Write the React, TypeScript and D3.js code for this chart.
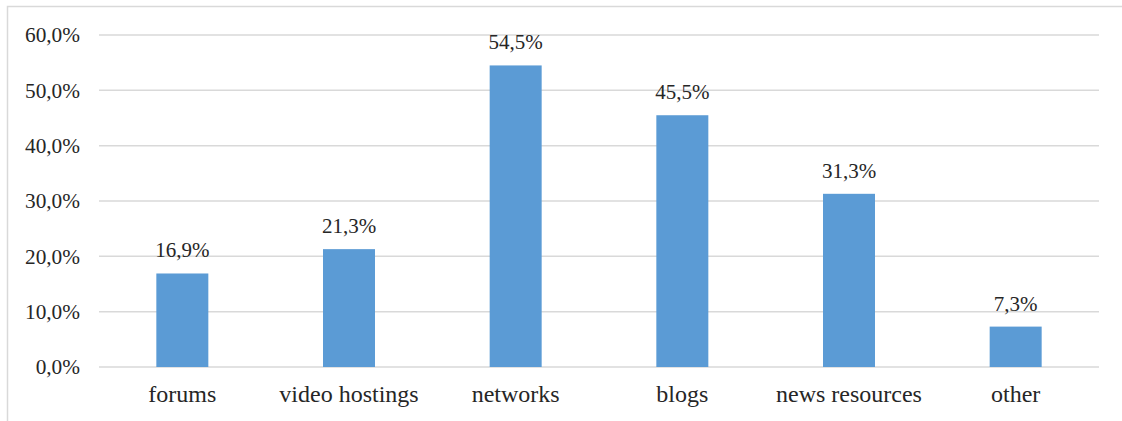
import React from "react";
import * as d3 from "d3";

const categories = ["forums", "video hostings", "networks", "blogs", "news resources", "other"];
const values = [16.9, 21.3, 54.5, 45.5, 31.3, 7.3];
const yTicks = [0, 10, 20, 30, 40, 50, 60];

const W = 1122;
const H = 421;
const fmt = (v: number) => v.toFixed(1).replace(".", ",") + "%";

export default function App() {
  const x = d3.scaleBand<string>().domain(categories).range([99, 1099]).paddingInner(0.688).paddingOuter(0.344);
  const y = d3.scaleLinear().domain([0, 60]).range([367, 35]);
  const textColor = "#262626";
  const font = "Liberation Serif";
  return (
    <svg width={W} height={H} style={{ position: "absolute", left: 0, top: 0, background: "#fff" }}>
      <rect x={7.5} y={6.5} width={1300} height={600} fill="none" stroke="#D9D9D9" strokeWidth={1.5} />
      {yTicks.map((t) => (
        <g key={t}>
          <line x1={99} x2={1099} y1={y(t)} y2={y(t)} stroke="#D9D9D9" strokeWidth={1.5} />
          <text x={80} y={y(t)} dy="0.35em" textAnchor="end" style={{ fontFamily: font, fontSize: 21.3 }} fill={textColor}>
            {fmt(t)}
          </text>
        </g>
      ))}
      {categories.map((c, i) => (
        <g key={c}>
          <rect x={x(c)} y={y(values[i])} width={x.bandwidth()} height={y(0) - y(values[i])} fill="#5B9BD5" />
          <text x={(x(c) as number) + x.bandwidth() / 2} y={y(values[i]) - 16} textAnchor="middle" style={{ fontFamily: font, fontSize: 21 }} fill={textColor}>
            {fmt(values[i])}
          </text>
          <text x={(x(c) as number) + x.bandwidth() / 2} y={402} textAnchor="middle" style={{ fontFamily: font, fontSize: 24 }} fill={textColor}>
            {c}
          </text>
        </g>
      ))}
    </svg>
  );
}
